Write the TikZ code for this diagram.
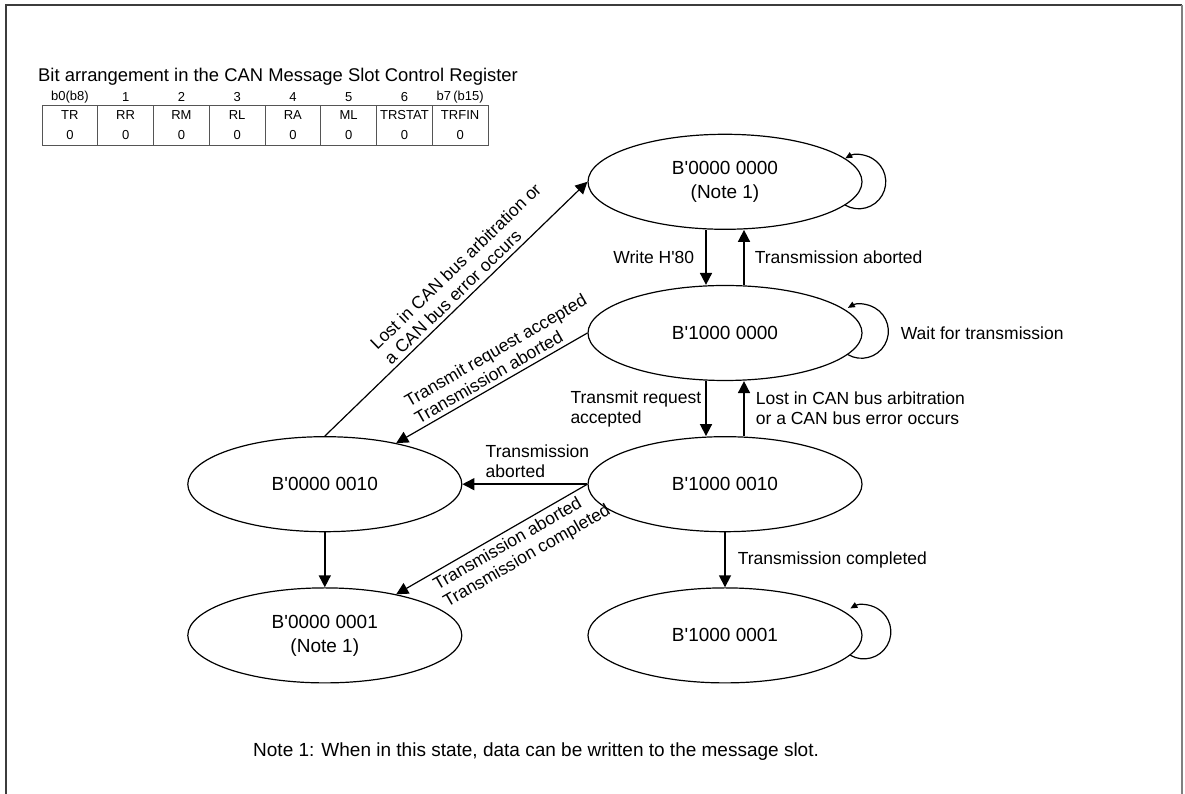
\documentclass[tikz,border=0pt]{standalone}
\usepackage{fontspec}
\setmainfont{Liberation Sans}
\usetikzlibrary{
  arrows.meta,
  positioning,
  shapes.geometric
}
\definecolor{frameDark}{HTML}{3C3C3C}
\definecolor{frameLight}{HTML}{808080}
\definecolor{cellGray}{HTML}{555555}
\newcommand{\apos}{\textquotesingle}
\newcommand{\statefont}{\fontsize{19}{24}\selectfont}
\newcommand{\lblfont}{\fontsize{17.5}{20}\selectfont}
\newcommand{\cellfont}{\fontsize{13}{15}\selectfont}
\tikzset{
  state/.style={
    ellipse,
    draw,
    line width=1.2pt,
    minimum width=274pt,
    minimum height=95pt,
    inner sep=0pt,
    align=center,
    font=\statefont
  },
  trans/.style={-{Triangle[length=12pt, width=12pt]}, line width=1.7pt},
  diag/.style={-{Triangle[length=12pt, width=12pt]}, line width=1.2pt},
  selfloop/.style={-{Triangle[length=7pt, width=6pt]}, line width=1.2pt},
  lbl/.style={font=\lblfont, inner sep=1pt, align=left},
  cell/.style={
    draw=cellGray,
    line width=0.9pt,
    minimum width=55.75pt,
    minimum height=40pt,
    inner sep=0pt,
    align=center,
    font=\cellfont
  },
  bitno/.style={font=\cellfont, inner sep=0pt}
}

\begin{document}
\begin{tikzpicture}[x=1pt, y=1pt, node distance=55pt and 125pt]
\useasboundingbox (0,0) rectangle (1185,794);

% --- page frame ---
\draw[frameDark, line width=1.5pt] (6,0) -- (6,789) -- (1182,789);
\draw[frameLight, line width=1.5pt] (1182,789) -- (1182,0);

% --- register bit arrangement ---
\node[anchor=west, inner sep=0pt, font=\fontsize{18.4}{20}\selectfont] (title) at (38,717)
  {Bit arrangement in the CAN Message Slot Control Register};
\foreach \bname/\bno [count=\i] in {TR/b0(b8), RR/1, RM/2, RL/3, RA/4, ML/5, TRSTAT/6, TRFIN/b7\,(b15)} {
  \node[cell] (bit\i) at ({42+55.75*(\i-0.5)}, 669) {\bname\\[5pt]0};
  \node[bitno] (bitno\i) at ({42+55.75*(\i-0.5)}, 697) {\bno};
}

% --- states ---
\node[state] (s1) at (725,461) {B\apos 1000 0000};
\node[state, above=of s1] (s0) {B\apos 0000 0000\\(Note 1)};
\node[state, below=of s1] (s2) {B\apos 1000 0010};
\node[state, below=of s2] (s5) {B\apos 1000 0001};
\node[state, left=of s2] (s3) {B\apos 0000 0010};
\node[state, below=of s3] (s4) {B\apos 0000 0001\\(Note 1)};

% --- vertical transitions ---
\draw[trans] ([xshift=-19pt]s0.south) -- ([xshift=-19pt]s1.north)
  node[lbl, midway, left=10pt] (lwrite) {Write H\apos 80};
\draw[trans] ([xshift=19pt]s1.north) -- ([xshift=19pt]s0.south)
  node[lbl, midway, right=9pt] (labort1) {Transmission aborted};
\draw[trans] ([xshift=-19pt]s1.south) -- ([xshift=-19pt]s2.north)
  node[lbl, midway, left=3pt] (lreq1) {Transmit request\\accepted};
\draw[trans] ([xshift=19pt]s2.north) -- ([xshift=19pt]s1.south)
  node[lbl, midway, right=10pt] (llost1) {Lost in CAN bus arbitration\\or a CAN bus error occurs};
\draw[trans] (s2) -- (s5)
  node[lbl, midway, right=11pt] (lcomp) {Transmission completed};
\draw[trans] (s3) -- (s4);
\draw[trans] (s2.west) -- (s3.east)
  node[lbl, pos=0.4, above=5pt] (labort2) {Transmission\\aborted};

% --- diagonal transitions ---
\draw[diag] (s3.north) -- (s0.west)
  node[lbl, pos=0.58, above=3pt, sloped] (llost2) {Lost in CAN bus arbitration or\\a CAN bus error occurs};
\draw[diag] (s1.west) -- (s3)
  node[lbl, pos=0.4, above=3pt, sloped] (lreq2) {Transmit request accepted\\Transmission aborted};
\draw[diag] (s2.west) -- (s4)
  node[lbl, pos=0.4, below=3pt, sloped] (labort3) {Transmission aborted\\Transmission completed};

% --- self loops ---
\draw[selfloop] (s0.-11) arc[start angle=-120, end angle=120, radius=27pt];
\draw[selfloop] (s1.-10) arc[start angle=-120, end angle=120, radius=27pt];
\draw[selfloop] (s5.-9) arc[start angle=-120, end angle=120, radius=27pt];
\node[lbl, right=37pt of s1.east] (lwait) {Wait for transmission};

% --- note ---
\node[anchor=west, inner sep=0pt, font=\fontsize{19}{22}\selectfont] (note) at (253,42)
  {Note 1: When in this state, data can be written to the message slot.};

\end{tikzpicture}
\end{document}
